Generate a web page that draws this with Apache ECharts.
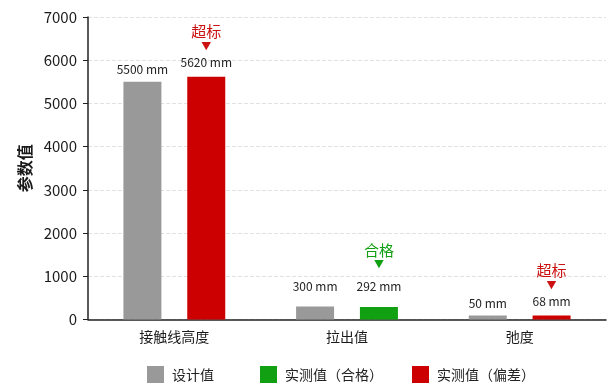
<!DOCTYPE html>
<html>
<head>
<meta charset="utf-8">
<script src="https://cdn.jsdelivr.net/npm/echarts@6/dist/echarts.min.js"></script>
<style>html,body{margin:0;padding:0;background:#fff;}#c{width:608px;height:385px;}</style>
</head>
<body>
<div id="c"></div>
<script>
var categories = ['接触线高度', '拉出值', '弛度'];
var designValues = [5500, 300, 50];
var passValues = [null, 292, null];
var deviationValues = [5620, null, 68];
var seriesNames = ['设计值', '实测值（合格）', '实测值（偏差）'];
var yTicks = [0, 1000, 2000, 3000, 4000, 5000, 6000, 7000];
var unit = 'mm';

var FONT = '"Noto Sans CJK SC", "Noto Sans", sans-serif';
var chart = echarts.init(document.getElementById('c'));

function markLabel(tag, color, aH, vH, dist) {
  return {
    show: true,
    position: 'top',
    distance: dist,
    formatter: function (p) { return '{t|' + tag + '}\n{a|▼}\n{v|' + p.value + ' ' + unit + '}'; },
    rich: {
      t: { fontFamily: FONT, fontSize: 15, color: color, lineHeight: 15 },
      a: { fontFamily: FONT, fontSize: 10, color: color, lineHeight: aH },
      v: { fontFamily: FONT, fontSize: 12, color: '#222', lineHeight: vH }
    }
  };
}

var designDist = [6, 14, 6];
var designData = designValues.map(function (v, i) {
  return { value: v, label: { distance: designDist[i] } };
});
var devData = deviationValues.map(function (v) {
  return v == null ? null : { value: v, label: markLabel('超标', '#cc1111', 16, 16, 6) };
});
var passData = passValues.map(function (v) {
  return v == null ? null : { value: v, label: markLabel('合格', '#11a011', 13, 31, 5) };
});

var legendBase = {
  top: 366, padding: 0,
  itemWidth: 17, itemHeight: 17, itemGap: 46,
  icon: 'rect',
  textStyle: { fontFamily: FONT, fontSize: 14, color: '#222', padding: [0, 0, 0, 3] }
};

chart.setOption({
  backgroundColor: '#ffffff',
  animation: false,
  textStyle: { fontFamily: FONT },
  grid: { left: 88, right: 2, top: 17, bottom: 65.5 },
  legend: [
    Object.assign({}, legendBase, { left: 147, data: seriesNames.slice(0, 2) }),
    Object.assign({}, legendBase, { left: 412, data: seriesNames.slice(2) })
  ],
  xAxis: {
    type: 'category',
    data: categories,
    axisLine: { lineStyle: { color: '#222', width: 1.5 } },
    axisTick: { show: false },
    axisLabel: { fontFamily: FONT, fontSize: 14, color: '#1a1a1a', margin: 10 }
  },
  yAxis: {
    type: 'value',
    min: yTicks[0], max: yTicks[yTicks.length - 1], interval: 1000,
    name: '参数值',
    nameLocation: 'middle',
    nameRotate: 90,
    nameGap: 55,
    nameTextStyle: { fontFamily: FONT, fontSize: 16, fontWeight: 'bold', color: '#1a1a1a' },
    axisLine: { show: true, lineStyle: { color: '#222', width: 1.5 } },
    axisTick: { show: true, length: 5, lineStyle: { color: '#222' } },
    axisLabel: { fontFamily: FONT, fontSize: 15, color: '#1a1a1a', margin: 11,
      formatter: function (v) { return String(v); } },
    splitLine: { show: true, lineStyle: { color: '#e2e2e2', type: 'dashed' } }
  },
  series: [
    {
      name: seriesNames[0], type: 'bar', data: designData,
      barWidth: 38, barGap: '68%', barMinHeight: 4,
      itemStyle: { color: '#999999' },
      label: { show: true, position: 'top', distance: 6, fontFamily: FONT, fontSize: 12, color: '#222',
        formatter: function (p) { return p.value + ' ' + unit; } }
    },
    {
      name: seriesNames[1], type: 'bar', data: passData, stack: 'actual',
      barWidth: 38, barMinHeight: 4,
      itemStyle: { color: '#11a011' }
    },
    {
      name: seriesNames[2], type: 'bar', data: devData, stack: 'actual',
      barWidth: 38, barMinHeight: 4,
      itemStyle: { color: '#cc0000' }
    }
  ]
});
</script>
</body>
</html>
